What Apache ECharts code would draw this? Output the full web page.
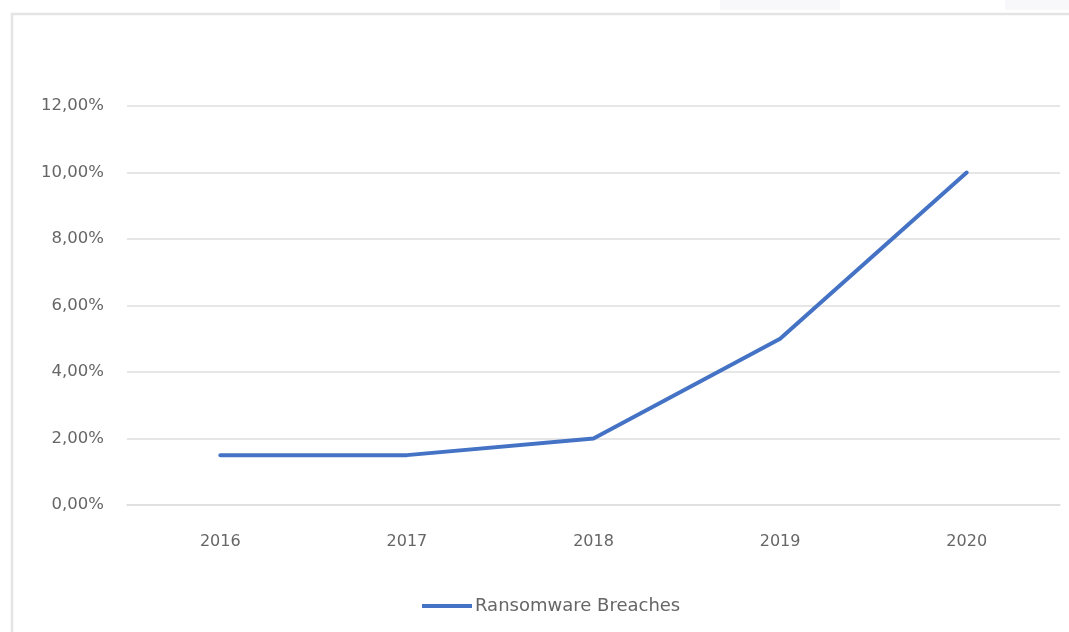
<!DOCTYPE html>
<html>
<head>
<meta charset="utf-8">
<style>
  html, body { margin: 0; padding: 0; background: #ffffff; }
  #chart { width: 1069px; height: 632px; }
</style>
<script src="https://cdn.jsdelivr.net/npm/echarts@6/dist/echarts.min.js"></script>
</head>
<body>
<div id="chart"></div>
<script>
// Share of breaches caused by ransomware, per year
const years = ['2016', '2017', '2018', '2019', '2020'];
const ransomwareShare = [1.5, 1.5, 2.0, 5.0, 10.0];
const seriesName = 'Ransomware Breaches';
const yTicks = { min: 0, max: 12, interval: 2 };

const textColor = '#666666';
const gridColor = '#dedede';
const lineColor = '#4472C4';
const fontFamily = '"DejaVu Sans", sans-serif';

const chart = echarts.init(document.getElementById('chart'), null, { renderer: 'canvas' });

chart.setOption({
  backgroundColor: '#ffffff',
  animation: false,
  graphic: [
    // panel frame around the chart
    {
      type: 'rect',
      shape: { x: 12, y: 14, width: 1100, height: 700 },
      style: { fill: 'none', stroke: '#e4e4e4', lineWidth: 2.5 },
      silent: true
    },
    {
      type: 'rect',
      shape: { x: 720, y: 0, width: 120, height: 10 },
      style: { fill: '#f8f8fa' },
      silent: true
    },
    {
      type: 'rect',
      shape: { x: 1005, y: 0, width: 70, height: 10 },
      style: { fill: '#f8f8fa' },
      silent: true
    }
  ],
  grid: {
    left: 127,
    right: 9,
    top: 106,
    bottom: 127,
    containLabel: false
  },
  legend: {
    data: [{ name: seriesName, icon: 'rect' }],
    left: 417,
    top: 592,
    itemWidth: 50,
    itemHeight: 4,
    itemGap: 10,
    textStyle: {
      color: textColor,
      fontFamily: fontFamily,
      fontSize: 18,
      padding: [0, 0, 0, -2]
    }
  },
  xAxis: {
    type: 'category',
    data: years,
    boundaryGap: true,
    axisLine: { show: true, lineStyle: { color: gridColor, width: 1.5 } },
    axisTick: { show: false },
    axisLabel: {
      color: textColor,
      fontFamily: fontFamily,
      fontSize: 16,
      margin: 29
    },
    splitLine: { show: false }
  },
  yAxis: {
    type: 'value',
    min: yTicks.min,
    max: yTicks.max,
    interval: yTicks.interval,
    axisLine: { show: false },
    axisTick: { show: false },
    axisLabel: {
      color: textColor,
      fontFamily: fontFamily,
      fontSize: 16.5,
      margin: 23,
      formatter: v => v.toFixed(2).replace('.', ',') + '%'
    },
    splitLine: { show: true, lineStyle: { color: gridColor, width: 1.5 } }
  },
  series: [
    {
      name: seriesName,
      type: 'line',
      data: ransomwareShare,
      showSymbol: false,
      symbol: 'none',
      smooth: false,
      lineStyle: { color: lineColor, width: 4, cap: 'round', join: 'round' },
      itemStyle: { color: lineColor }
    }
  ]
});
</script>
</body>
</html>
